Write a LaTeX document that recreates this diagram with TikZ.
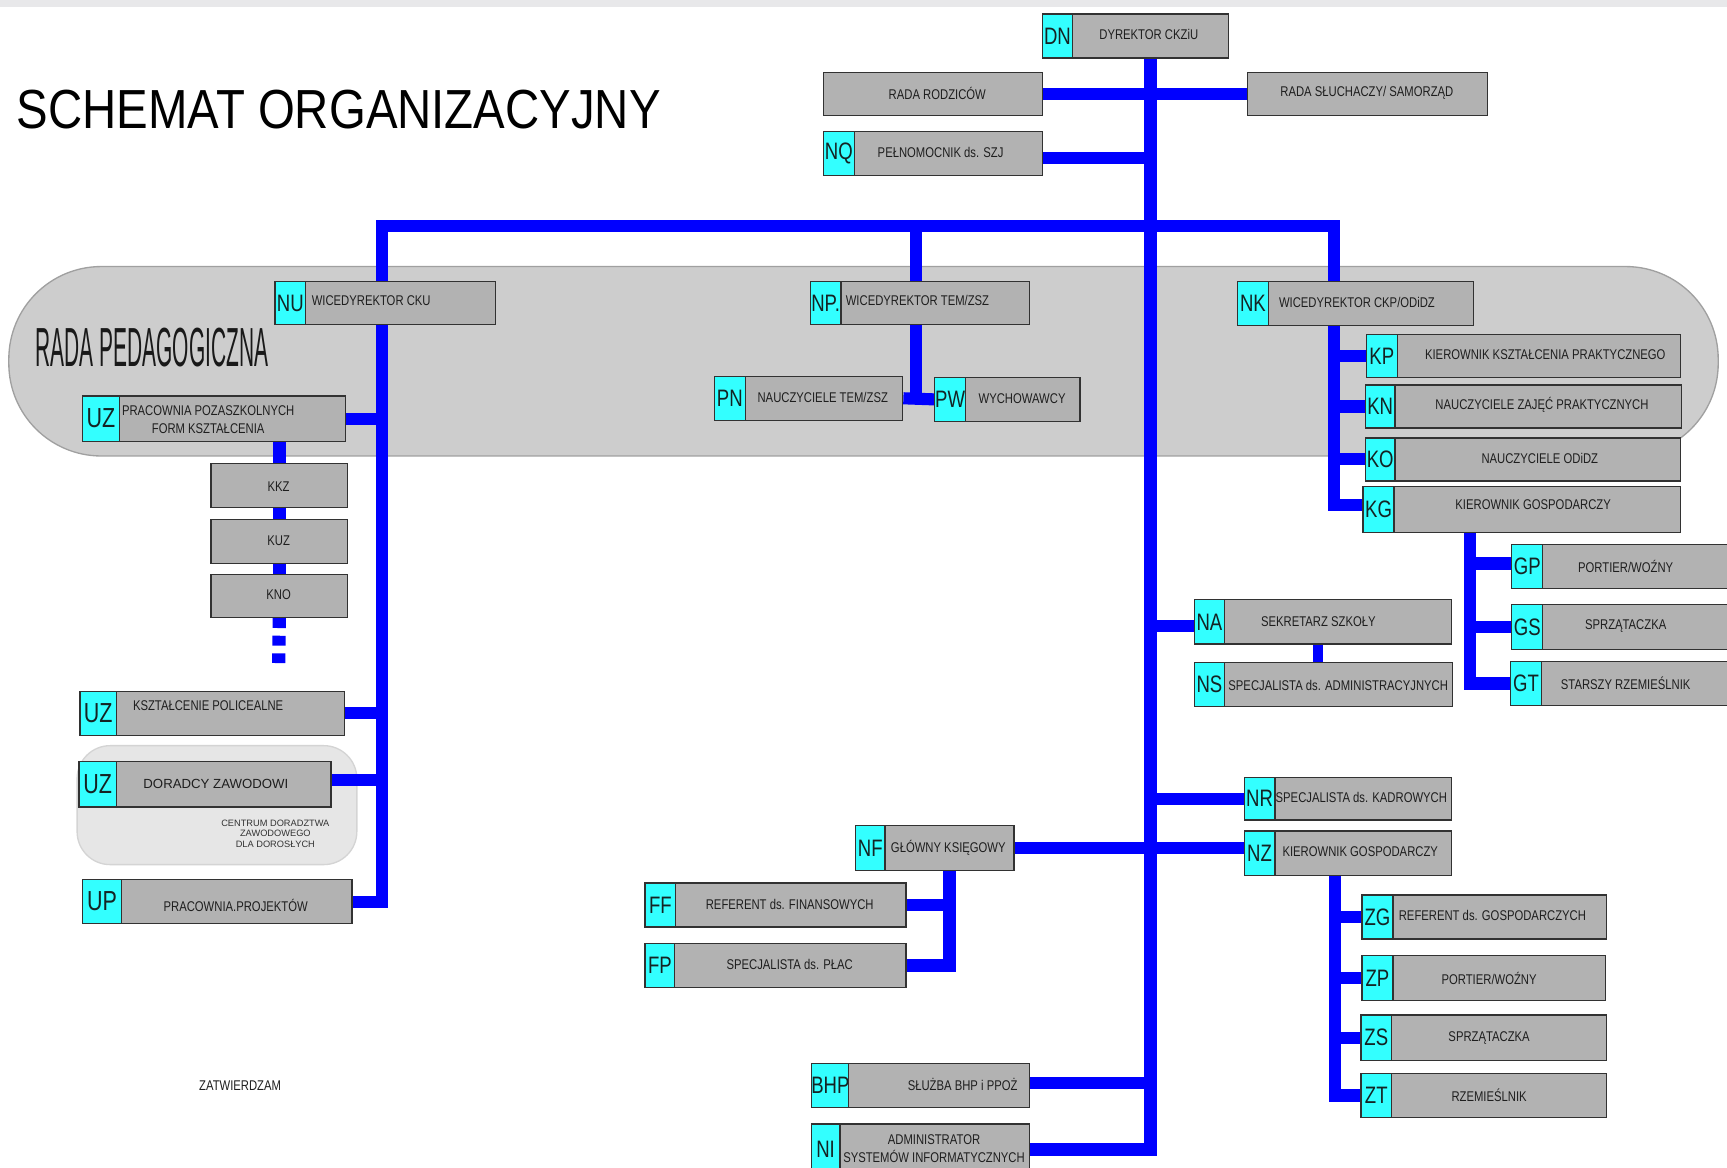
\documentclass[tikz,border=0pt]{standalone}
\usepackage{fontspec}
\usepackage{graphicx}
\setmainfont{Liberation Sans}
\newfontfamily\narf[FakeStretch=0.8]{Liberation Sans}
\newfontfamily\labf[FakeStretch=0.78]{Liberation Sans}
\newfontfamily\titf[FakeStretch=0.86]{Liberation Sans}
\newfontfamily\regf{Liberation Sans}
\pgfdeclarelayer{back}
\pgfdeclarelayer{lines}
\pgfsetlayers{back,lines,main}
\definecolor{boxgray}{RGB}{178,178,178}
\definecolor{bandgray}{RGB}{205,205,205}
\definecolor{bandline}{RGB}{160,160,160}
\definecolor{cdgray}{RGB}{230,230,230}
\definecolor{cdline}{RGB}{212,212,212}
\definecolor{cyanc}{RGB}{51,255,255}
\definecolor{boxline}{RGB}{50,50,50}
\definecolor{busblue}{RGB}{0,0,255}
\definecolor{topband}{RGB}{232,232,234}
\definecolor{bodytext}{RGB}{30,30,30}
\definecolor{labtext}{RGB}{20,35,35}
\tikzset{
  cyanbox/.style={draw=boxline, fill=cyanc, line width=0.6pt, inner sep=0pt, anchor=north west,
    font=\labf\fontsize{10.8}{11}\selectfont, text=labtext},
  graybox/.style={draw=boxline, fill=boxgray, line width=0.6pt, inner sep=0pt, anchor=north west},
  btxt/.style={inner sep=0pt, font=\narf\fontsize{6.4}{8}\selectfont, text=bodytext, align=center},
  bus/.style={draw=busblue, line width=5.5pt},
  trunk/.style={draw=busblue, line width=6pt},
}
\newcommand{\obx}[9]{%
  \node[cyanbox, minimum width={(#3-#2)*0.5pt}, minimum height={(#6-#5)*0.5pt}] (#1c) at (#2,#5) {#7};
  \node[graybox, minimum width={(#4-#3)*0.5pt}, minimum height={(#6-#5)*0.5pt}] (#1) at (#3,#5) {};
  \node[btxt] (#1t) at (#9) {#8};
}
\newcommand{\pbx}[7]{%
  \node[graybox, minimum width={(#3-#2)*0.5pt}, minimum height={(#5-#4)*0.5pt}] (#1) at (#2,#4) {};
  \node[btxt] (#1t) at (#7) {#6};
}
\begin{document}
\begin{tikzpicture}[x=0.5pt, y=-0.5pt]
\useasboundingbox (0,0) rectangle (1568,1060);
\clip (0,0) rectangle (1568,1060);
\begin{pgfonlayer}{back}
  \fill[white] (0,0) rectangle (1568,1060);
  \fill[topband] (0,0) rectangle (1568,6);
  \draw[bandline, fill=bandgray, line width=0.6pt, rounded corners=42pt] (8,242) rectangle (1560,414);
  \draw[cdline, fill=cdgray, line width=0.6pt, rounded corners=15pt] (70,677) rectangle (324,785);
\end{pgfonlayer}

% titles
\node[anchor=base west, inner sep=0pt, font=\titf\fontsize{25}{30}\selectfont, text=black] (title) at (15,117) {SCHEMAT ORGANIZACYJNY};
\node[anchor=base west, inner sep=0pt, font=\regf\fontsize{25}{30}\selectfont, text=black!90] (radap) at (32,333) {\scalebox{0.38}[1]{RADA PEDAGOGICZNA}};
\node[inner sep=0pt, align=center, font=\regf\fontsize{4.2}{4.6}\selectfont, text=black!80] (cdt) at (250,757) {CENTRUM DORADZTWA\\ZAWODOWEGO\\DLA DOROSŁYCH};
\node[btxt] (zatw) at (218,986) {ZATWIERDZAM};

% top
\obx{DN}{946}{973}{1115}{12}{52}{DN}{DYREKTOR CKZiU}{1043,31}
\pbx{RR}{747}{946}{65}{104}{RADA RODZICÓW}{851,85}
\pbx{RS}{1132}{1350}{65}{104}{RADA SŁUCHACZY/ SAMORZĄD}{1241,84}
\obx{NQ}{747}{775}{946}{119}{159}{NQ}{PEŁNOMOCNIK ds. SZJ}{854,138}

% vice directors
\obx{NU}{249}{277}{449}{255}{294}{NU}{WICEDYREKTOR CKU}{337,273}
\obx{NP}{735}{763}{934}{255}{294}{NP.}{WICEDYREKTOR TEM/ZSZ}{833,273}
\obx{NK}{1123}{1151}{1337}{255}{295}{NK}{WICEDYREKTOR CKP/ODiDZ}{1232,275}

% left branch
\obx{PPF}{74}{108}{313}{359}{400}{{\fontsize{12.5}{12.5}\selectfont UZ}}{PRACOWNIA POZASZKOLNYCH\\[0.6pt]FORM KSZTAŁCENIA}{189,381}
\pbx{KKZ}{191}{315}{420}{460}{KKZ}{253,442}
\pbx{KUZ}{191}{315}{471}{511}{KUZ}{253,491}
\pbx{KNO}{191}{315}{521}{560}{KNO}{253,540}
\obx{KPO}{72}{105}{312}{627}{667}{{\fontsize{12.5}{12.5}\selectfont UZ}}{KSZTAŁCENIE POLICEALNE}{189,641}
\obx{DOR}{71}{105}{300}{691}{732}{{\fontsize{12.5}{12.5}\selectfont UZ}}{{\regf\fontsize{6}{7}\selectfont DORADCY ZAWODOWI}}{196,712}
\obx{UP}{74}{110}{319}{798}{838}{{\fontsize{12.5}{12.5}\selectfont UP}}{PRACOWNIA.PROJEKTÓW}{214,822}

% middle branch
\obx{PN}{648}{676}{819}{341}{381}{PN}{NAUCZYCIELE TEM/ZSZ}{747,361}
\obx{PW}{848}{876}{980}{342}{382}{PW}{WYCHOWAWCY}{928,362}

% right branch
\obx{KP}{1240}{1268}{1525}{303}{342}{KP}{KIEROWNIK KSZTAŁCENIA PRAKTYCZNEGO}{1403,322}
\obx{KN}{1239}{1266}{1526}{349}{388}{KN}{NAUCZYCIELE ZAJĘĆ PRAKTYCZNYCH}{1400,368}
\obx{KO}{1239}{1266}{1525}{397}{436}{KO}{NAUCZYCIELE ODiDZ}{1398,416}
\obx{KG}{1237}{1265}{1525}{441}{483}{KG}{KIEROWNIK GOSPODARCZY}{1392,458}
\obx{GP}{1372}{1400}{1590}{494}{534}{GP}{PORTIER/WOŹNY}{1476,514}
\obx{GS}{1372}{1400}{1590}{548}{589}{GS}{SPRZĄTACZKA}{1476,568}
\obx{GT}{1371}{1399}{1590}{600}{640}{GT}{STARSZY RZEMIEŚLNIK}{1476,620}

% administration
\obx{NA}{1084}{1111}{1317}{544}{584}{NA}{SEKRETARZ SZKOŁY}{1197,564}
\obx{NS}{1084}{1111}{1318}{601}{641}{NS}{SPECJALISTA ds. ADMINISTRACYJNYCH}{1215,622}
\obx{NR}{1129}{1157}{1317}{705}{744}{NR}{SPECJALISTA ds. KADROWYCH}{1236,724}
\obx{NZ}{1129}{1157}{1317}{754}{794}{NZ}{KIEROWNIK GOSPODARCZY}{1235,773}
\obx{NF}{776}{803}{920}{749}{790}{NF}{GŁÓWNY KSIĘGOWY}{861,770}
\obx{FF}{585}{613}{822}{801}{841}{FF}{REFERENT ds. FINANSOWYCH}{717,821}
\obx{FP}{585}{612}{822}{856}{896}{FP}{SPECJALISTA ds. PŁAC}{717,876}
\obx{ZG}{1236}{1264}{1458}{812}{852}{ZG}{REFERENT ds. GOSPODARCZYCH}{1355,831}
\obx{ZP}{1236}{1264}{1457}{867}{908}{ZP}{PORTIER/WOŹNY}{1352,888}
\obx{ZS}{1235}{1263}{1458}{921}{962}{ZS}{SPRZĄTACZKA}{1352,942}
\obx{ZT}{1235}{1263}{1458}{974}{1014}{ZT}{RZEMIEŚLNIK}{1352,994}
\obx{BHP}{736}{770}{934}{965}{1005}{BHP}{SŁUŻBA BHP i PPOŻ}{874,985}
\obx{NI}{736}{762}{934}{1020}{1066}{NI}{ADMINISTRATOR\\SYSTEMÓW INFORMATYCZNYCH}{848,1043}

% junction coordinates
\coordinate (bl) at (347,205);
\coordinate (npx) at (832,205);
\coordinate (nkx) at (1211,205);
\coordinate (kgx) at (1335,490);
\coordinate (nax) at (1197,590);
\coordinate (nzx) at (1212,800);
\coordinate (kdots) at (253,602);

\begin{pgfonlayer}{lines}
  % trunk
  \draw[trunk, miter limit=10] (DN.south) -- (NI.east -| DN.south) -- (NI.east);
  \draw[bus] (RR.east) -- (RS.west);
  \draw[bus] ([yshift=-2pt]NQ.east) -- ([yshift=-2pt]NQ.east -| DN.south);
  % main bus
  \draw[bus] (NU.north -| bl) -- (bl) -- (nkx) -- (NK.north -| nkx);
  \draw[bus] (npx) -- (NP.north -| npx);
  % NU branch
  \draw[bus] (NU.south -| bl) -- (UP.east -| bl) -- (UP.east);
  \draw[bus] (PPF.east) -- (PPF.east -| bl);
  \draw[bus] (KPO.east) -- (KPO.east -| bl);
  \draw[bus] ([yshift=2pt]DOR.east) -- ([yshift=2pt]DOR.east -| bl);
  \draw[bus, line width=6pt] (KKZ.north |- PPF.south) -- (KKZ.north);
  \draw[bus, line width=6pt] (KKZ.south) -- (KUZ.north);
  \draw[bus, line width=6pt] (KUZ.south) -- (KNO.north);
  \draw[bus, line width=6pt, dash pattern=on 4.5pt off 3.5pt] (KNO.south) -- (kdots);
  % NP branch
  \draw[bus] (NP.south -| npx) -- (PN.east -| npx);
  \draw[bus] (PN.east) -- (PWc.west);
  % NK branch
  \draw[bus] (NK.south -| nkx) -- ([yshift=2pt]KGc.west -| nkx) -- ([yshift=2pt]KGc.west);
  \draw[bus] (KPc.west) -- (KPc.west -| nkx);
  \draw[bus] (KNc.west) -- (KNc.west -| nkx);
  \draw[bus] (KOc.west) -- (KOc.west -| nkx);
  % KG branch
  \draw[bus] (KG.south -| kgx) -- (GTc.west -| kgx) -- (GTc.west);
  \draw[bus] ([yshift=1.5pt]GPc.west) -- ([yshift=1.5pt]GPc.west -| kgx);
  \draw[bus] (GSc.west) -- (GSc.west -| kgx);
  % administration
  \draw[bus] ([yshift=-2pt]NAc.west) -- ([yshift=-2pt]NAc.west -| DN.south);
  \draw[bus, line width=4.5pt] (NA.south -| nax) -- (NS.north -| nax);
  \draw[bus] (NRc.west) -- (NRc.west -| DN.south);
  \draw[bus] (NF.east) -- (NF.east -| NZc.west);
  \draw[bus] (NF.south) -- (NF.south |- FP.east) -- (FP.east);
  \draw[bus] (FF.east) -- (FF.east -| NF.south);
  \draw[bus] (NZ.south -| nzx) -- (ZTc.west -| nzx) -- (ZTc.west);
  \draw[bus] (ZGc.west) -- (ZGc.west -| nzx);
  \draw[bus] (ZPc.west) -- (ZPc.west -| nzx);
  \draw[bus] (ZSc.west) -- (ZSc.west -| nzx);
  \draw[bus] ([yshift=1pt]BHP.east) -- ([yshift=1pt]BHP.east -| DN.south);
\end{pgfonlayer}
\end{tikzpicture}
\end{document}
